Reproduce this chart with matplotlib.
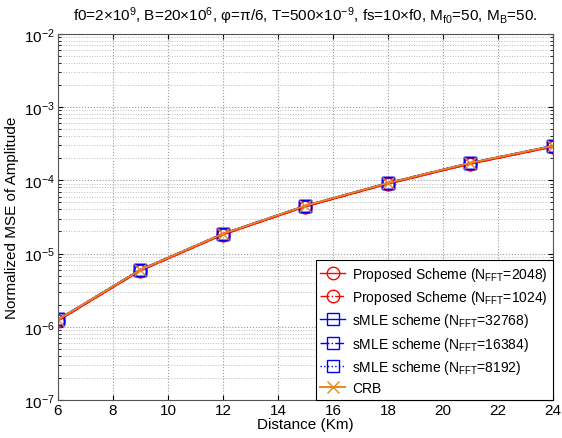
import matplotlib
matplotlib.use('Agg')
import matplotlib.pyplot as plt

plt.rcParams['font.family'] = ['Liberation Sans', 'DejaVu Sans']
plt.rcParams['mathtext.fontset'] = 'custom'
plt.rcParams['mathtext.rm'] = 'Liberation Sans'
plt.rcParams['mathtext.it'] = 'Liberation Sans:italic'
plt.rcParams['mathtext.default'] = 'regular'

distance = [6, 9, 12, 15, 18, 21, 24]
crb = [1.25e-6, 6.0e-6, 1.86e-5, 4.5e-5, 9.2e-5, 1.73e-4, 2.95e-4]
proposed_2048 = [1.2e-6, 5.8e-6, 1.8e-5, 4.35e-5, 8.9e-5, 1.67e-4, 2.85e-4]
proposed_1024 = [1.2e-6, 5.8e-6, 1.8e-5, 4.35e-5, 8.9e-5, 1.67e-4, 2.85e-4]
smle_32768 = [1.26e-6, 6.05e-6, 1.87e-5, 4.52e-5, 9.25e-5, 1.74e-4, 2.97e-4]
smle_16384 = [1.26e-6, 6.05e-6, 1.87e-5, 4.52e-5, 9.25e-5, 1.74e-4, 2.97e-4]
smle_8192 = [1.26e-6, 6.05e-6, 1.87e-5, 4.52e-5, 9.25e-5, 1.74e-4, 2.97e-4]

fig = plt.figure(figsize=(5.62, 4.39), dpi=100)
ax = fig.add_axes([0.103, 0.0866, 0.881, 0.834])

ax.semilogy(distance, proposed_2048, '-o', color='red', mfc='none', ms=9, lw=1,
            label='Proposed Scheme (N$_{FFT}$=2048)')
ax.semilogy(distance, proposed_1024, '-.o', color='red', mfc='none', ms=9, lw=1,
            label='Proposed Scheme (N$_{FFT}$=1024)')
ax.semilogy(distance, smle_32768, '-s', color='blue', mfc='none', ms=9, lw=1,
            label='sMLE scheme (N$_{FFT}$=32768)')
ax.semilogy(distance, smle_16384, '-.s', color='blue', mfc='none', ms=9, lw=1,
            label='sMLE scheme (N$_{FFT}$=16384)')
ax.semilogy(distance, smle_8192, ':s', color='blue', mfc='none', ms=9, lw=1,
            label='sMLE scheme (N$_{FFT}$=8192)')
ax.semilogy(distance, crb, '-x', color='#e8871e', ms=8, lw=1.4, label='CRB')

ax.set_xlim(6, 24)
ax.set_ylim(1e-7, 1e-2)
ax.set_xticks([6, 8, 10, 12, 14, 16, 18, 20, 22, 24])
ax.grid(True, which='major', linestyle=':', color='#999999', lw=0.8)
ax.grid(True, which='minor', linestyle=':', color='#bbbbbb', lw=0.7)
ax.tick_params(which='both', direction='in', top=True, right=True, labelsize=11, pad=2)
for s in ax.spines.values():
    s.set_color('#555555')

ax.set_xlabel('Distance (Km)', fontsize=11, labelpad=0)
ax.set_ylabel('Normalized MSE of Amplitude', fontsize=11)
ax.set_title('f0=2\u00d710$^9$, B=20\u00d710$^6$, \u03c6=\u03c0/6, T=500\u00d710$^{-9}$, '
             'fs=10\u00d7f0, M$_{f0}$=50, M$_B$=50.', fontsize=11, pad=10)

leg = ax.legend(loc='lower right', fontsize=10, fancybox=False, framealpha=1,
                edgecolor='black', borderaxespad=0, handlelength=1.8,
                handletextpad=0.5, labelspacing=0.38, borderpad=0.35)
leg.get_frame().set_linewidth(0.8)

fig.savefig('out.png', dpi=100)
